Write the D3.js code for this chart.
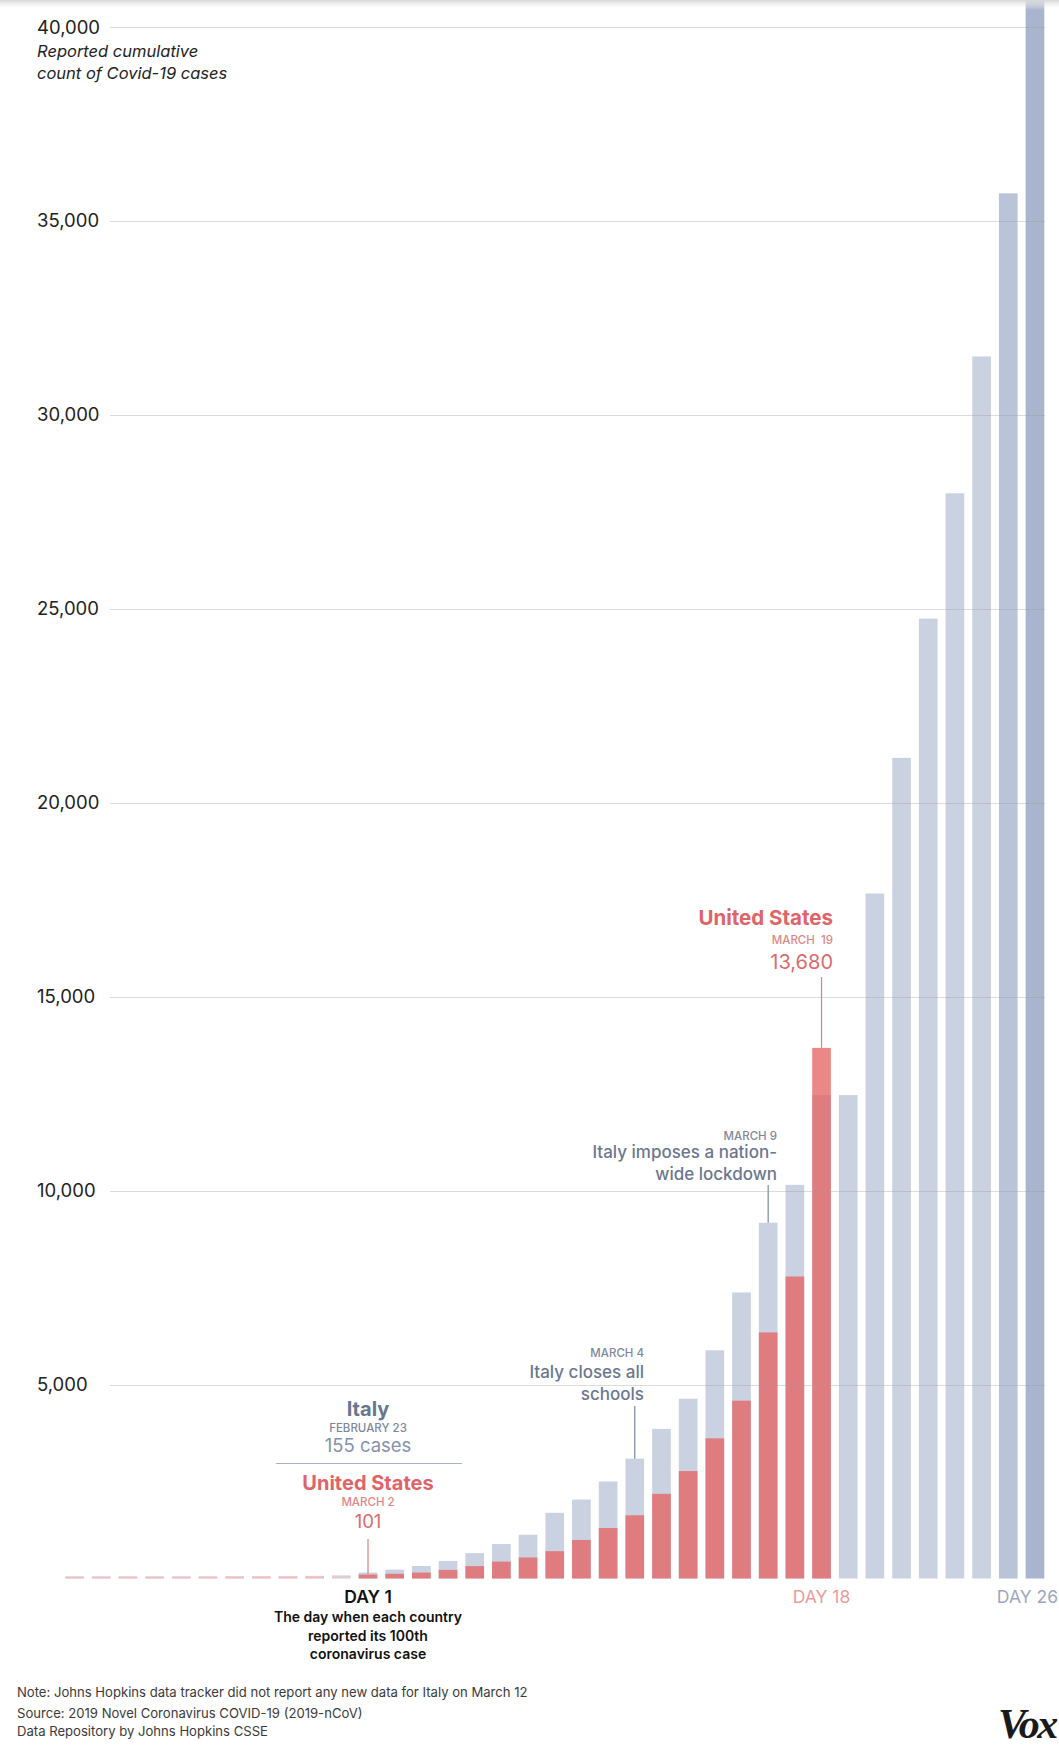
<!DOCTYPE html>
<html>
<head>
<meta charset="utf-8">
<script src="https://cdn.jsdelivr.net/npm/d3@7/dist/d3.min.js"></script>
<style>
  html, body { margin: 0; padding: 0; background: #fff; }
  svg { display: block; font-family: Inter, "Noto Sans", sans-serif; }
</style>
</head>
<body>
<script>
// ---- data ----
const days = [-10,-9,-8,-7,-6,-5,-4,-3,-2,-1,0,1,2,3,4,5,6,7,8,9,10,11,12,13,14,15,16,17,18,19,20,21,22,23,24,25,26];
const italyCases = [3,3,3,3,3,3,3,3,3,20,79,155,229,322,453,655,888,1128,1694,2036,2502,3089,3858,4636,5883,7375,9172,10149,12462,12462,17660,21157,24747,27980,31506,35713,41035];
const usCases = [13,15,15,15,51,51,57,58,60,68,74,101,122,153,221,319,435,541,704,994,1301,1630,2183,2770,3613,4585,6344,7786,13680,null,null,null,null,null,null,null,null];
const yTicks = [5000,10000,15000,20000,25000,30000,35000,40000];
const dayLabels = [{day: 1, text: "DAY 1"}, {day: 18, text: "DAY 18"}, {day: 26, text: "DAY 26"}];
const notes = [
  "Note: Johns Hopkins data tracker did not report any new data for Italy on March 12",
  "Source: 2019 Novel Coronavirus COVID-19 (2019-nCoV)",
  "Data Repository by Johns Hopkins CSSE"
];

const W = 1059, H = 1749;
const svg = d3.select("body").append("svg").attr("width", W).attr("height", H);
svg.append("rect").attr("width", W).attr("height", H).attr("fill", "#fff");

const x = d3.scaleBand().domain(days).range([61.2, 1048.3]).paddingInner(0.3).paddingOuter(0.15);
const y = d3.scaleLinear().domain([0, 40000]).range([1578.5, 27]);
const cx = d => x(d) + x.bandwidth() / 2;

const rows = days.map((d, i) => ({day: d, italy: italyCases[i], us: usCases[i]}));
const pre = rows.filter(r => r.day < 1), post = rows.filter(r => r.day >= 1);

const italyColor = d => d >= 26 ? "#a9b4cf" : d === 25 ? "#bac4d9" : "#cad2e2";
const US = "rgb(230,95,95)";
const hgt = (v, min) => Math.max(y(0) - y(v), min);

// pre day-1 faint dashes
const gPre = svg.append("g").attr("opacity", 0.45);
gPre.selectAll("rect.it").data(pre).join("rect")
  .attr("x", r => x(r.day)).attr("width", x.bandwidth())
  .attr("y", r => y(0) - hgt(r.italy, 2)).attr("height", r => hgt(r.italy, 2))
  .attr("fill", "#a7b2c9");
gPre.selectAll("rect.us").data(pre).join("rect")
  .attr("x", r => x(r.day)).attr("width", x.bandwidth())
  .attr("y", r => y(0) - hgt(r.us, 2)).attr("height", r => hgt(r.us, 2))
  .attr("fill", US).attr("opacity", r => r.us > r.italy ? 0.75 : 0.35);

// Italy bars
svg.append("g").selectAll("rect").data(post).join("rect")
  .attr("x", r => x(r.day)).attr("width", x.bandwidth())
  .attr("y", r => y(r.italy)).attr("height", r => y(0) - y(r.italy))
  .attr("fill", r => italyColor(r.day));

// US bars
svg.append("g").selectAll("rect").data(post.filter(r => r.us != null)).join("rect")
  .attr("x", r => x(r.day)).attr("width", x.bandwidth())
  .attr("y", r => y(r.us)).attr("height", r => y(0) - y(r.us))
  .attr("fill", US).attr("fill-opacity", 0.75);

// gridlines (on top of bars) + tick labels
const grid = svg.append("g");
grid.selectAll("line").data(yTicks).join("line")
  .attr("x1", 110).attr("x2", 1045)
  .attr("y1", d => Math.round(y(d)) + 0.5).attr("y2", d => Math.round(y(d)) + 0.5)
  .attr("stroke", "#9a9a9a").attr("stroke-opacity", 0.35).attr("stroke-width", 1);
grid.selectAll("text").data(yTicks).join("text")
  .attr("x", 37).attr("y", d => y(d) + 6.5)
  .attr("font-size", 18.5).attr("fill", "#222")
  .text(d3.format(","));

// axis title
svg.append("text").attr("x", 37).attr("y", 57).attr("font-size", 16.5).attr("font-style", "italic").attr("fill", "#222").text("Reported cumulative");
svg.append("text").attr("x", 37).attr("y", 79).attr("font-size", 16.5).attr("font-style", "italic").attr("fill", "#222").text("count of Covid-19 cases");

// day labels
const dayColor = {1: "#111", 18: "#e99c9c", 26: "#9ea7bd"};
svg.append("g").selectAll("text").data(dayLabels).join("text")
  .attr("x", d => d.day === 26 ? W - 1 : cx(d.day)).attr("y", 1603)
  .attr("text-anchor", d => d.day === 26 ? "end" : "middle")
  .attr("font-size", 17.5).attr("font-weight", d => d.day === 1 ? 600 : 400)
  .attr("fill", d => dayColor[d.day]).text(d => d.text);

["The day when each country", "reported its 100th", "coronavirus case"].forEach((t, i) => {
  svg.append("text").attr("x", cx(1)).attr("y", 1622 + i * 18.5).attr("text-anchor", "middle")
    .attr("font-size", 14).attr("font-weight", 600).attr("fill", "#111").text(t);
});

// helper
function txt(xp, yp, s, size, weight, fill, anchor) {
  return svg.append("text").attr("x", xp).attr("y", yp).attr("font-size", size)
    .attr("font-weight", weight).attr("fill", fill).attr("text-anchor", anchor).text(s);
}
function vline(xp, y1, y2, color) {
  svg.append("line").attr("x1", xp).attr("x2", xp).attr("y1", y1).attr("y2", y2)
    .attr("stroke", color).attr("stroke-width", 1.2);
}

// Day 1 annotation
const c1 = cx(1);
txt(c1, 1416, "Italy", 20, 700, "#687690", "middle");
txt(c1, 1432, "FEBRUARY 23", 11.5, 500, "#7d879b", "middle");
txt(c1, 1452, "155 cases", 18.5, 400, "#8692ad", "middle");
svg.append("line").attr("x1", 276).attr("x2", 462).attr("y1", 1463.5).attr("y2", 1463.5).attr("stroke", "#a9b1c3").attr("stroke-width", 1.2);
txt(c1, 1490, "United States", 20, 700, "#de6468", "middle");
txt(c1, 1506, "MARCH 2", 11.5, 500, "#e08688", "middle");
txt(c1, 1528, "101", 18.5, 400, "#dc6a6d", "middle");
vline(c1, 1539, y(usCases[days.indexOf(1)]), "#e07f82");

// March 4
const c11 = cx(11);
txt(644, 1357, "MARCH 4", 11.5, 500, "#7f889a", "end");
txt(644, 1378, "Italy closes all", 17, 500, "#6b7790", "end");
txt(644, 1400, "schools", 17, 500, "#6b7790", "end");
vline(c11, 1406, y(italyCases[days.indexOf(11)]), "#7f889a");

// March 9
const c16 = cx(16);
txt(777, 1140, "MARCH 9", 11.5, 500, "#7f889a", "end");
txt(777, 1158, "Italy imposes a nation-", 17, 500, "#6b7790", "end");
txt(777, 1180, "wide lockdown", 17, 500, "#6b7790", "end");
vline(c16, 1185, y(italyCases[days.indexOf(16)]), "#7f889a");

// March 19
const c18 = cx(18);
txt(833, 925, "United States", 20.5, 700, "#de6468", "end");
txt(833, 944, "MARCH  19", 11.5, 500, "#e08688", "end").style("white-space", "pre");
txt(833, 969, "13,680", 20, 400, "#dc6a6d", "end");
vline(c18, 977, y(usCases[days.indexOf(18)]), "#e07f82");

// footer
notes.forEach((t, i) => {
  svg.append("text").attr("x", 17).attr("y", [1697, 1718, 1736][i])
    .attr("font-size", 13.1).attr("fill", "#3a3a3a").text(t);
});

// Vox logo
svg.append("text").attr("x", 998).attr("y", 1738)
  .style("font-family", "'Liberation Serif', 'DejaVu Serif', serif")
  .attr("font-size", 42).attr("font-weight", 700).attr("font-style", "italic")
  .attr("letter-spacing", -2.5).attr("fill", "#1a1a1a").text("Vox");

// top shadow
const defs = svg.append("defs");
const lg = defs.append("linearGradient").attr("id", "topShade").attr("x1", 0).attr("x2", 0).attr("y1", 0).attr("y2", 1);
lg.append("stop").attr("offset", 0).attr("stop-color", "#d6d6d6").attr("stop-opacity", 1);
lg.append("stop").attr("offset", 1).attr("stop-color", "#ffffff").attr("stop-opacity", 0);
svg.append("rect").attr("x", 0).attr("y", 0).attr("width", W).attr("height", 10).attr("fill", "url(#topShade)");
</script>
</body>
</html>
